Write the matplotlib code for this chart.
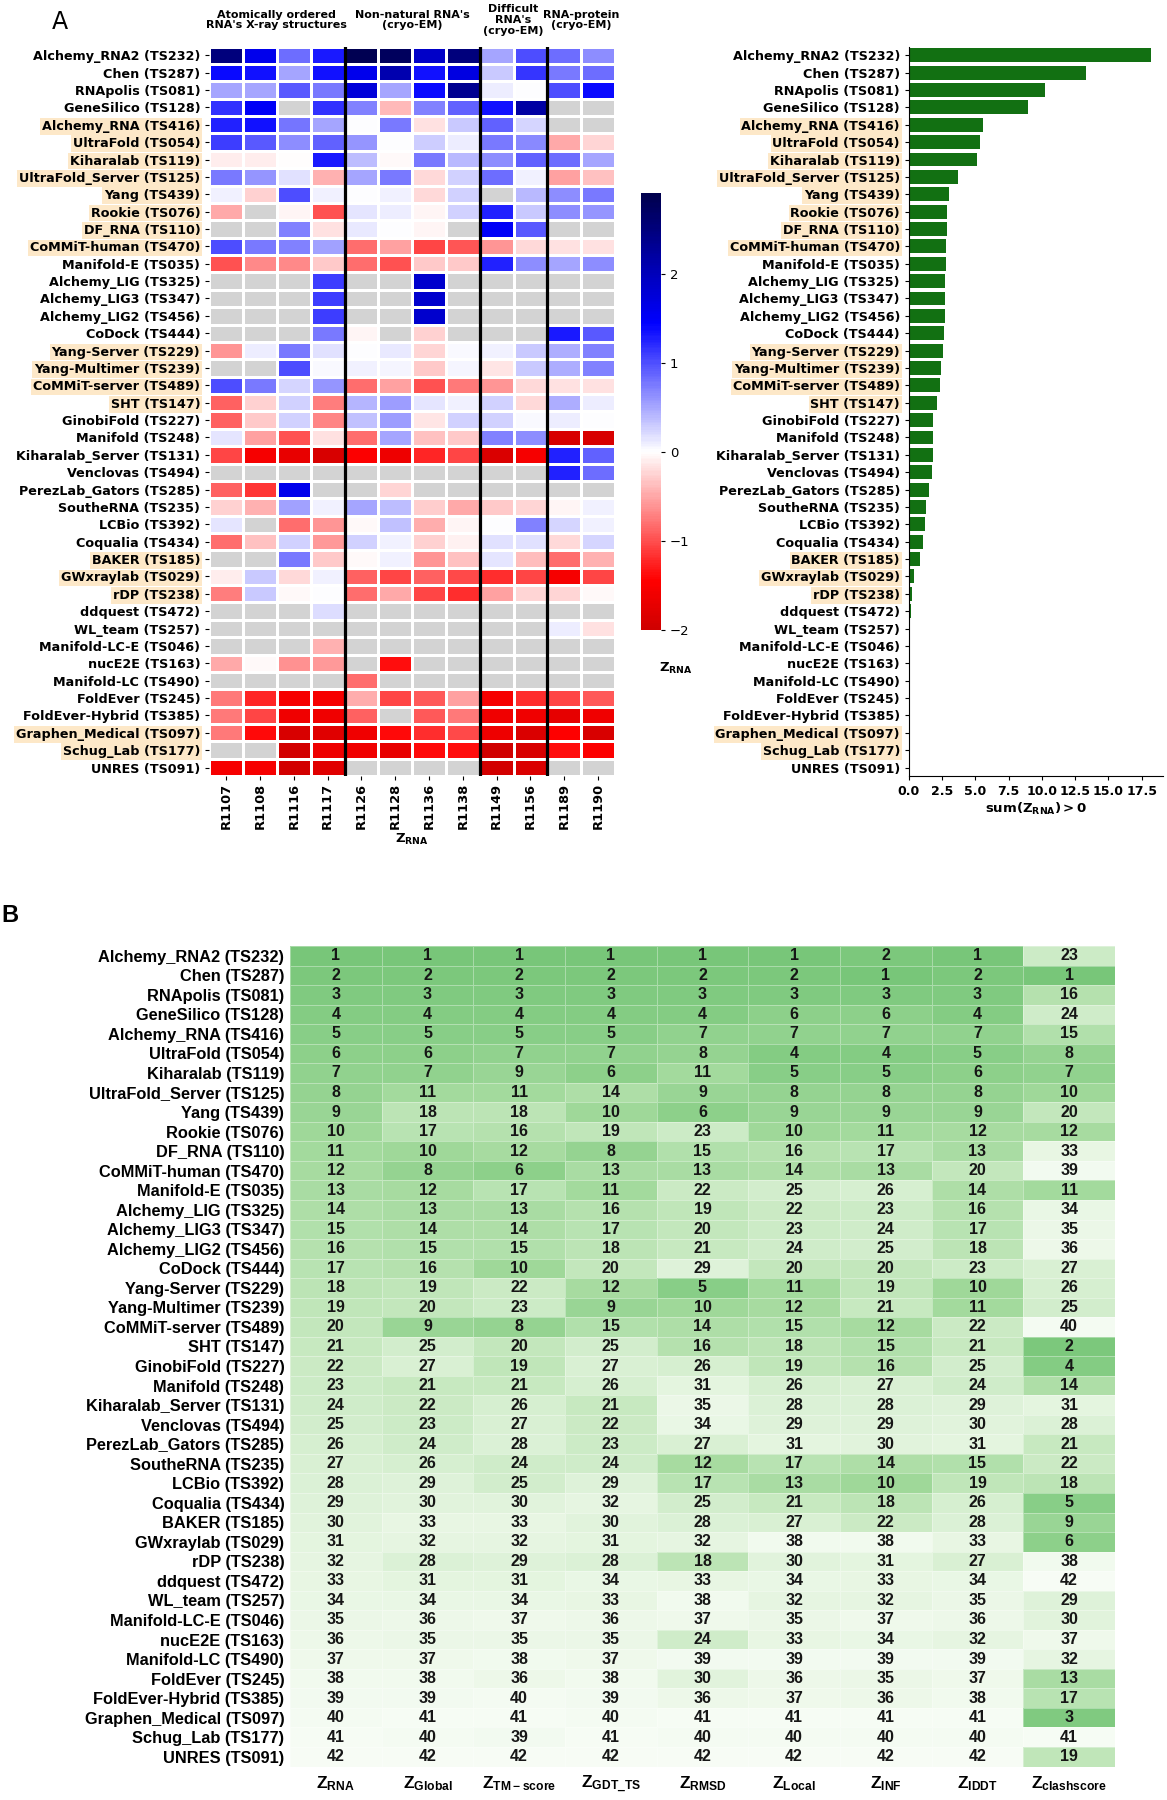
import numpy as np
import matplotlib
matplotlib.use("Agg")
import matplotlib.pyplot as plt
from matplotlib.colors import ListedColormap, Normalize

nan = np.nan

teams = ["Alchemy_RNA2 (TS232)", "Chen (TS287)", "RNApolis (TS081)", "GeneSilico (TS128)",
         "Alchemy_RNA (TS416)", "UltraFold (TS054)", "Kiharalab (TS119)", "UltraFold_Server (TS125)",
         "Yang (TS439)", "Rookie (TS076)", "DF_RNA (TS110)", "CoMMiT-human (TS470)",
         "Manifold-E (TS035)", "Alchemy_LIG (TS325)", "Alchemy_LIG3 (TS347)", "Alchemy_LIG2 (TS456)",
         "CoDock (TS444)", "Yang-Server (TS229)", "Yang-Multimer (TS239)", "CoMMiT-server (TS489)",
         "SHT (TS147)", "GinobiFold (TS227)", "Manifold (TS248)", "Kiharalab_Server (TS131)",
         "Venclovas (TS494)", "PerezLab_Gators (TS285)", "SoutheRNA (TS235)", "LCBio (TS392)",
         "Coqualia (TS434)", "BAKER (TS185)", "GWxraylab (TS029)", "rDP (TS238)",
         "ddquest (TS472)", "WL_team (TS257)", "Manifold-LC-E (TS046)", "nucE2E (TS163)",
         "Manifold-LC (TS490)", "FoldEver (TS245)", "FoldEver-Hybrid (TS385)",
         "Graphen_Medical (TS097)", "Schug_Lab (TS177)", "UNRES (TS091)"]

highlighted = ["Alchemy_RNA (TS416)", "UltraFold (TS054)", "Kiharalab (TS119)",
               "UltraFold_Server (TS125)", "Yang (TS439)", "Rookie (TS076)", "DF_RNA (TS110)",
               "CoMMiT-human (TS470)", "Yang-Server (TS229)", "Yang-Multimer (TS239)",
               "CoMMiT-server (TS489)", "SHT (TS147)", "BAKER (TS185)", "GWxraylab (TS029)",
               "rDP (TS238)", "Graphen_Medical (TS097)", "Schug_Lab (TS177)"]

targets = ["R1107", "R1108", "R1116", "R1117", "R1126", "R1128", "R1136", "R1138",
           "R1149", "R1156", "R1189", "R1190"]

groups = ["Atomically ordered\nRNA's X-ray structures", "Non-natural RNA's\n(cryo-EM)",
          "Difficult\nRNA's\n(cryo-EM)", "RNA-protein\n(cryo-EM)"]
group_bounds = [(0, 4), (4, 8), (8, 10), (10, 12)]

z_rna = [
    [2.5, 1.6, 0.83, 1.3, 2.85, 2.75, 1.9, 2.5, 0.5, 1.0, 0.83, 0.65],
    [1.4, 1.35, 0.5, 1.35, 1.6, 2.1, 1.35, 1.7, 0.32, 1.15, 0.77, 0.83],
    [0.5, 0.52, 0.94, 0.78, 1.75, 0.5, 1.38, 2.35, 0.1, 0.0, 1.0, 1.4],
    [1.17, 1.5, nan, 1.17, 0.72, -0.4, 0.72, 0.88, 1.35, 2.2, nan, nan],
    [1.25, 1.35, 0.8, 0.5, 0.01, 0.75, -0.17, 0.32, 0.9, 0.23, nan, nan],
    [1.1, 0.95, 0.65, 0.88, 0.6, 0.02, 0.3, 0.1, 0.78, 0.68, -0.48, -0.23],
    [-0.11, -0.11, -0.02, 1.3, 0.37, -0.04, 0.78, 0.4, 0.65, 0.88, 0.83, 0.5],
    [0.78, 0.6, 0.17, -0.43, 0.5, 0.78, -0.2, 0.28, 0.83, 0.09, -0.54, -0.35],
    [0.08, -0.26, 1.03, 0.08, 0.0, 0.08, -0.2, 0.28, nan, 0.4, 0.65, 0.78],
    [-0.48, nan, -0.05, -1.0, 0.14, 0.1, -0.05, 0.28, 1.25, 0.32, 0.65, 0.6],
    [nan, nan, 0.72, -0.17, 0.12, 0.0, -0.05, nan, 1.5, 0.94, nan, nan],
    [1.0, 0.75, 0.72, 0.55, -0.83, -0.54, -1.05, -0.95, -0.6, -0.2, -0.17, -0.17],
    [-0.97, -0.66, -0.66, -0.31, -0.83, -0.97, -0.31, -0.31, 1.25, 0.65, 0.5, 0.65],
    [nan, nan, nan, 1.1, nan, nan, 1.85, nan, nan, nan, nan, nan],
    [nan, nan, nan, 1.1, nan, nan, 1.85, nan, nan, nan, nan, nan],
    [nan, nan, nan, 1.1, nan, nan, 1.85, nan, nan, nan, nan, nan],
    [nan, nan, nan, 0.75, -0.05, nan, -0.26, nan, nan, nan, 1.3, 0.94],
    [-0.6, 0.1, 0.78, 0.17, 0.0, 0.12, -0.23, 0.05, 0.08, 0.32, 0.47, 0.72],
    [nan, nan, 1.0, 0.04, 0.08, 0.07, -0.31, 0.07, -0.14, 0.32, 0.47, 0.72],
    [1.0, 0.75, 0.23, 0.6, -0.83, -0.54, -1.0, -0.77, -0.6, -0.2, -0.17, -0.17],
    [-0.89, -0.26, 0.28, -0.72, 0.43, 0.57, 0.14, 0.09, 0.26, -0.2, 0.47, 0.1],
    [-0.89, -0.31, 0.28, -0.69, 0.34, 0.57, -0.14, 0.26, 0.26, 0.04, 0.1, 0.02],
    [0.14, -0.54, -0.97, -0.17, -0.83, 0.5, -0.35, -0.31, 0.72, 0.65, -1.9, -1.9],
    [-1.05, -1.55, -1.7, -1.9, -1.5, -1.65, -1.25, -1.05, -1.85, -1.55, 1.25, 0.88],
    [nan, nan, nan, nan, nan, nan, nan, nan, nan, nan, 1.25, 0.83],
    [-0.89, -1.15, 1.6, nan, nan, -0.23, nan, nan, nan, nan, nan, nan],
    [-0.26, -0.43, 0.55, 0.08, 0.5, 0.37, -0.28, -0.48, -0.31, -0.23, -0.05, 0.08],
    [0.14, nan, -0.83, -0.6, -0.03, 0.34, -0.46, -0.05, 0.0, 0.72, 0.23, 0.08],
    [-0.83, -0.35, 0.28, -0.57, 0.26, 0.09, -0.26, -0.08, 0.17, 0.17, -0.2, 0.23],
    [nan, nan, 0.75, -0.31, -0.03, 0.09, -0.6, -0.35, 0.14, -0.37, -0.83, -0.43],
    [-0.11, 0.32, -0.2, 0.08, -0.89, -1.05, -0.89, -1.03, -1.18, -1.05, -1.55, -1.05],
    [-0.72, 0.32, -0.03, 0.02, -0.83, -0.48, -1.05, -1.18, -0.54, -0.23, -0.23, -0.03],
    [nan, nan, nan, 0.2, nan, nan, nan, nan, nan, nan, nan, nan],
    [nan, nan, nan, nan, nan, nan, nan, nan, nan, nan, 0.1, -0.17],
    [nan, nan, nan, -0.43, nan, nan, nan, nan, nan, nan, nan, nan],
    [-0.48, -0.03, -0.63, -0.57, nan, -1.35, nan, nan, nan, nan, nan, nan],
    [nan, nan, nan, nan, -0.83, nan, nan, nan, nan, nan, nan, nan],
    [-0.77, -1.25, -1.55, -1.55, -0.46, -1.05, -0.94, -0.54, -1.55, -1.18, -1.05, -0.94],
    [-0.77, -1.05, -1.6, -1.6, -0.89, nan, -0.94, -0.77, -1.6, -1.6, -1.75, -1.6],
    [-0.77, -1.4, -1.9, -1.8, -1.6, -1.4, -1.18, -1.03, -1.65, -1.85, -1.45, -1.9],
    [nan, nan, -1.95, -1.65, -1.6, -1.7, -1.4, -1.35, -2.0, -1.9, -1.35, -1.5],
    [-1.55, -1.55, -1.95, -1.8, nan, nan, nan, nan, -1.95, -1.85, nan, nan],
]

z_sum_pos = [18.2, 13.3, 10.25, 8.95, 5.6, 5.35, 5.08, 3.65, 3.02, 2.88, 2.83, 2.75,
             2.75, 2.7, 2.7, 2.69, 2.6, 2.55, 2.44, 2.33, 2.1, 1.81, 1.79, 1.78,
             1.71, 1.52, 1.29, 1.18, 1.08, 0.84, 0.35, 0.26, 0.18, 0.1, 0, 0,
             0, 0, 0, 0, 0, 0]

metric_labels = [r"$\mathregular{Z_{RNA}}$", r"$\mathregular{Z_{Global}}$",
                 r"$\mathregular{Z_{TM-score}}$", r"$\mathregular{Z_{GDT\_TS}}$",
                 r"$\mathregular{Z_{RMSD}}$", r"$\mathregular{Z_{Local}}$",
                 r"$\mathregular{Z_{INF}}$", r"$\mathregular{Z_{lDDT}}$",
                 r"$\mathregular{Z_{clashscore}}$"]

rank_rna = list(range(1, 43))
rank_global = [1, 2, 3, 4, 5, 6, 7, 11, 18, 17, 10, 8, 12, 13, 14, 15, 16, 19, 20, 9, 25,
               27, 21, 22, 23, 24, 26, 29, 30, 33, 32, 28, 31, 34, 36, 35, 37, 38, 39, 41, 40, 42]
rank_tm = [1, 2, 3, 4, 5, 7, 9, 11, 18, 16, 12, 6, 17, 13, 14, 15, 10, 22, 23, 8, 20,
           19, 21, 26, 27, 28, 24, 25, 30, 33, 32, 29, 31, 34, 37, 35, 38, 36, 40, 41, 39, 42]
rank_gdt = [1, 2, 3, 4, 5, 7, 6, 14, 10, 19, 8, 13, 11, 16, 17, 18, 20, 12, 9, 15, 25,
            27, 26, 21, 22, 23, 24, 29, 32, 30, 31, 28, 34, 33, 36, 35, 37, 38, 39, 40, 41, 42]
rank_rmsd = [1, 2, 3, 4, 7, 8, 11, 9, 6, 23, 15, 13, 22, 19, 20, 21, 29, 5, 10, 14, 16,
             26, 31, 35, 34, 27, 12, 17, 25, 28, 32, 18, 33, 38, 37, 24, 39, 30, 36, 41, 40, 42]
rank_local = [1, 2, 3, 6, 7, 4, 5, 8, 9, 10, 16, 14, 25, 22, 23, 24, 20, 11, 12, 15, 18,
              19, 26, 28, 29, 31, 17, 13, 21, 27, 38, 30, 34, 32, 35, 33, 39, 36, 37, 41, 40, 42]
rank_inf = [2, 1, 3, 6, 7, 4, 5, 8, 9, 11, 17, 13, 26, 23, 24, 25, 20, 19, 21, 12, 15,
            16, 27, 28, 29, 30, 14, 10, 18, 22, 38, 31, 33, 32, 37, 34, 39, 35, 36, 41, 40, 42]
rank_lddt = [1, 2, 3, 4, 7, 5, 6, 8, 9, 12, 13, 20, 14, 16, 17, 18, 23, 10, 11, 22, 21,
             25, 24, 29, 30, 31, 15, 19, 26, 28, 33, 27, 34, 35, 36, 32, 39, 37, 38, 41, 40, 42]
rank_clash = [23, 1, 16, 24, 15, 8, 7, 10, 20, 12, 33, 39, 11, 34, 35, 36, 27, 26, 25, 40, 2,
              4, 14, 31, 28, 21, 22, 18, 5, 9, 6, 38, 42, 29, 30, 37, 32, 13, 17, 3, 41, 19]

# ---------------------------------------------------------------- layout
W, H = 1167, 1800
fig = plt.figure(figsize=(W / 100, H / 100), dpi=100)


def rect(l, t, r, b):
    return [l / W, 1 - b / H, (r - l) / W, (b - t) / H]


def fx(x):
    return x / W


def fy(y):
    return 1 - y / H


HL = "#fde8c8"
n = len(teams)

# ---------------------------------------------------------------- panel A heatmap
Z = np.array(z_rna, dtype=float)
vmin, vmax, center = -2.0, 2.91, 0.0
vr = max(vmax - center, center - vmin)
cmin = (vmin - (center - vr)) / (2 * vr)
cmax = (vmax - (center - vr)) / (2 * vr)
base = plt.get_cmap("seismic_r")
cmap = ListedColormap(base(np.linspace(cmin, cmax, 256)))
cmap.set_bad("lightgray")
norm = Normalize(vmin, vmax)

axh = fig.add_axes(rect(209.3, 46.6, 615, 776.2))
mesh = axh.pcolormesh(np.ma.masked_invalid(Z), cmap=cmap, norm=norm,
                      edgecolors="white", linewidth=1.0)
axh.set_xlim(0, Z.shape[1])
axh.set_ylim(n, 0)
for s in axh.spines.values():
    s.set_visible(False)
axh.set_xticks(np.arange(len(targets)) + 0.5)
axh.set_xticklabels(targets, rotation=90, fontweight="bold", fontsize=9.4)
axh.set_yticks(np.arange(n) + 0.5)
axh.set_yticklabels(teams, fontweight="bold", fontsize=9.2)
axh.tick_params(length=3, width=0.8)
axh.tick_params(axis="x", pad=1.5)
for (a, b) in group_bounds[1:]:
    axh.axvline(a, color="black", lw=2.3)
for lab in axh.get_yticklabels():
    if lab.get_text() in highlighted:
        lab.set_bbox(dict(facecolor=HL, edgecolor="none", pad=1.3))
axh.set_xlabel(r"$\mathregular{Z_{RNA}}$", fontweight="bold", fontsize=9.5, labelpad=2)

x0, cw = 209.3, (615 - 209.3) / 12
for g, (a, b) in zip(groups, group_bounds):
    fig.text(fx(x0 + (a + b) / 2 * cw), fy(20), g, ha="center", va="center",
             fontsize=8.0, fontweight="bold", linespacing=1.1)

fig.text(fx(60), fy(22), "A", fontsize=17, ha="center", va="center")

# colorbar
cax = fig.add_axes(rect(641, 193, 661, 630))
cb = fig.colorbar(mesh, cax=cax)
cb.outline.set_visible(False)
cb.set_ticks([-2, -1, 0, 1, 2])
cax.tick_params(labelsize=9.5, length=3, width=0.8)
fig.text(fx(676), fy(668), r"$\mathregular{Z_{RNA}}$", fontweight="bold", fontsize=9.5,
         ha="center", va="center")

# ---------------------------------------------------------------- panel A bars
axb = fig.add_axes(rect(909, 46.6, 1163, 776.2))
axb.barh(np.arange(n), z_sum_pos, height=0.8, color="#127012")
axb.set_ylim(n - 0.5, -0.5)
axb.set_yticks(np.arange(n))
axb.set_yticklabels(teams, fontweight="bold", fontsize=9.2)
axb.spines["top"].set_visible(False)
axb.spines["right"].set_visible(False)
axb.set_xticks(np.arange(0, 18, 2.5))
axb.set_xticklabels([f"{v:.1f}" for v in np.arange(0, 18, 2.5)], fontweight="bold", fontsize=9)
axb.tick_params(length=3, width=0.8)
axb.set_xlabel(r"$\mathregular{sum(Z_{RNA}) > 0}$", fontweight="bold", fontsize=9.5, labelpad=2)
for lab in axb.get_yticklabels():
    if lab.get_text() in highlighted:
        lab.set_bbox(dict(facecolor=HL, edgecolor="none", pad=1.3))

# ---------------------------------------------------------------- panel B table
R = np.array([rank_rna, rank_global, rank_tm, rank_gdt, rank_rmsd, rank_local,
              rank_inf, rank_lddt, rank_clash]).T
gcm = ListedColormap(plt.get_cmap("Greens")(np.linspace(0.49, 0.0, 256)))
axt = fig.add_axes(rect(290, 946, 1115, 1766.5))
axt.pcolormesh(R, cmap=gcm, norm=Normalize(1, n), edgecolors=(1, 1, 1, 0.35), linewidth=0.6)
axt.set_xlim(0, R.shape[1])
axt.set_ylim(n, 0)
for s in axt.spines.values():
    s.set_visible(False)
axt.set_xticks([])
axt.set_yticks(np.arange(n) + 0.5)
axt.set_yticklabels(teams, fontweight="bold", fontsize=11.8, family="Liberation Sans")
axt.tick_params(axis="y", length=0, pad=4)
for i in range(n):
    for j in range(R.shape[1]):
        axt.text(j + 0.5, i + 0.5, str(R[i, j]), ha="center", va="center",
                 fontsize=11.5, fontweight="bold", color="#161616",
                 family="Liberation Sans")

bw = (1115 - 290) / 9
for j, lab in enumerate(metric_labels):
    fig.text(fx(290 + (j + 0.5) * bw), fy(1784), lab, ha="center", va="center",
             fontsize=12.5, fontweight="bold", family="Liberation Sans")

fig.text(fx(10), fy(915), "B", fontsize=17, fontweight="bold", family="Liberation Sans",
         ha="center", va="center")

fig.savefig("out.png", dpi=100)
